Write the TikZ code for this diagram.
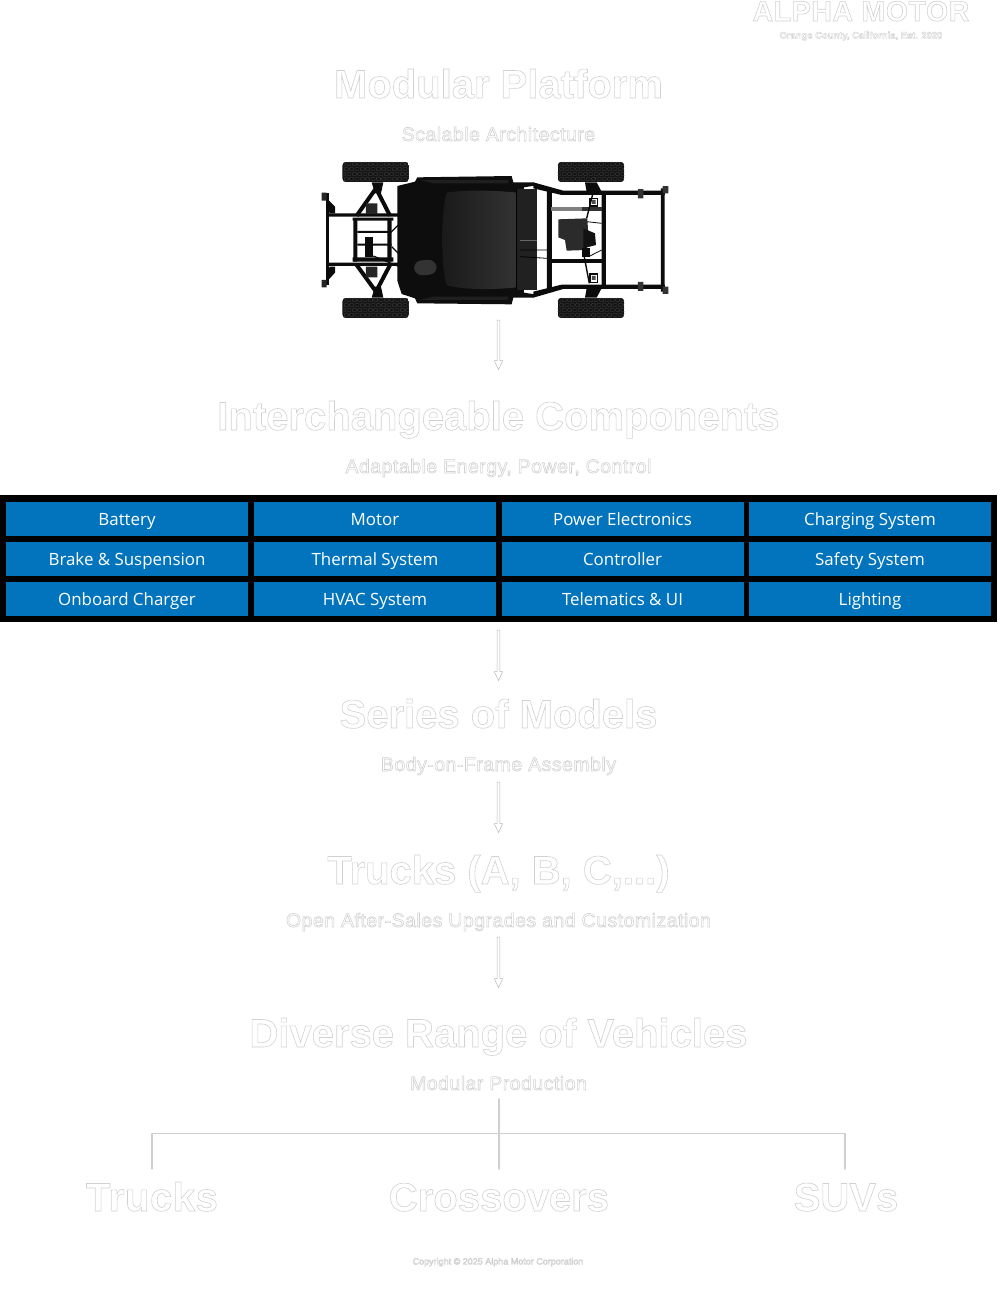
\documentclass[tikz,border=0pt]{standalone}
\usepackage{fontspec}
\setmainfont{Liberation Sans}
\newfontfamily\cellfont{Open Sans}
\usetikzlibrary{arrows.meta}
\definecolor{cellblue}{HTML}{0274BD}
\definecolor{lineg}{HTML}{CFCFCF}
\definecolor{frame}{HTML}{0B0B0B}
\newcommand\outl[2][0.6]{\special{pdf:code q 2 Tr #1 w 0.82 0.82 0.82 RG 1 1 1 rg}#2\special{pdf:code Q}}
\newcommand\bigtxt[1]{\outl{\bfseries #1}}
\newcommand\subtxt[1]{\outl{\addfontfeatures{LetterSpace=2.5}#1}}
\tikzset{
  title/.style={anchor=base,inner sep=0pt,font=\fontsize{#1}{#1}\selectfont},
  cellbox/.style={fill=cellblue,draw=none,minimum width=242pt,minimum height=34pt,inner sep=0pt,text=white,font=\cellfont\fontsize{16.9}{17}\selectfont,text height=14pt,text depth=2pt},
  flow/.style={draw=lineg!90!black,fill=white,line width=.5pt,line join=miter},
  tree/.style={draw=lineg,line width=1.4pt,line cap=round,line join=round},
  member/.style={draw=frame,line width=#1,line cap=butt},
}
\begin{document}
\begin{tikzpicture}[x=1pt,y=-1pt]
\useasboundingbox (0,0) rectangle (1000,1296);
\fill[white] (0,0) rectangle (1000,1296);
% header
\node[title=28.5] (brand) at (861,21) {\outl{\bfseries\addfontfeatures{LetterSpace=2}ALPHA MOTOR}};
\node[title=9.4] (place) at (861,38.5) {\outl[0.4]{\bfseries Orange County, California, Est. 2020}};
% section titles
\node[title=40] (t1) at (498.5,98) {\bigtxt{Modular Platform}};
\node[title=19.5] (s1) at (498.5,141) {\subtxt{Scalable Architecture}};
\node[title=40] (t2) at (498.5,430) {\bigtxt{Interchangeable Components}};
\node[title=19.5] (s2) at (498.5,473) {\subtxt{Adaptable Energy, Power, Control}};
\node[title=40] (t3) at (498.5,728) {\bigtxt{Series of Models}};
\node[title=19.5] (s3) at (498.5,771) {\subtxt{Body-on-Frame Assembly}};
\node[title=40] (t4) at (498.5,884) {\bigtxt{Trucks (A, B, C,...)}};
\node[title=19.5] (s4) at (498.5,927) {\subtxt{Open After-Sales Upgrades and Customization}};
\node[title=40] (t5) at (498.5,1047) {\bigtxt{Diverse Range of Vehicles}};
\node[title=19.5] (s5) at (498.5,1090) {\subtxt{Modular Production}};
\node[title=40] (o1) at (152,1211) {\outl{\bfseries\addfontfeatures{LetterSpace=1.5}Trucks}};
\node[title=40] (o2) at (499,1211) {\bigtxt{Crossovers}};
\node[title=40] (o3) at (846,1211) {\bigtxt{SUVs}};
\node[title=9] (copy) at (498,1264.5) {\outl[0.45]{Copyright © 2025 Alpha Motor Corporation}};
% chassis
\begin{scope}[shift={(300,150)},x=0.3333pt,y=-0.3333pt]
 \foreach \x/\y in {127/35,127/443,773/35,773/443}{
  \begin{scope}
   \clip[rounded corners=4pt] (\x,\y) rectangle ++(200,62);
   \fill[black!92] (\x,\y) rectangle ++(200,62);
   \foreach \i in {0,...,12}{\foreach \j in {0,...,3}{
     \draw[black!76,line width=.35pt] ({\x+4+\i*16+8*mod(\j,2)},{\y+6+\j*15}) ++(0,-5) -- ++(6,3) -- ++(0,6) -- ++(-6,3) -- ++(-6,-3) -- ++(0,-6) -- cycle;
   }}
  \end{scope}
 }
 % front frame
 \fill[frame] (77,130) rectangle (88,405);
 \fill[black!85] (65,128) rectangle (80,152) (65,390) rectangle (80,412);
 \fill[frame] (85,150) -- (105,170) -- (105,190) -- (88,190) -- cycle (85,390) -- (105,368) -- (105,350) -- (88,350) -- cycle;
 \fill[frame] (85,190) rectangle (295,200) (85,338) rectangle (295,348);
 \fill[frame] (160,205) rectangle (172,335) (262,205) rectangle (275,335);
 \fill[frame] (158,203) rectangle (280,212) (172,243) rectangle (275,249) (172,281) rectangle (275,287) (158,322) rectangle (280,335);
 \fill[frame] (195,262) rectangle (218,322);
 \fill[frame] (215,97) -- (250,97) -- (243,130) -- (225,130) -- cycle (215,443) -- (250,443) -- (243,410) -- (225,410) -- cycle;
 \draw[member=4pt] (228,115) -- (170,197) (228,115) -- (270,197) (228,425) -- (170,345) (228,425) -- (270,345);
 \fill[black!85] (198,160) rectangle (232,192) (198,350) rectangle (232,382);
 \draw[member=1.2pt] (275,245) -- (295,225) (275,290) -- (295,310) (220,318) -- (310,355);
 % rear frame
 \fill[frame] (700,97) -- (790,122) -- (1095,122) -- (1095,135) -- (785,135) -- (700,115) -- cycle;
 \fill[frame] (700,443) -- (790,417) -- (1095,417) -- (1095,404) -- (785,404) -- (700,425) -- cycle;
 \fill[frame] (741,120) rectangle (756,420) (905,125) rectangle (918,415) (1083,115) rectangle (1094,425);
 \fill[frame] (755,327) rectangle (905,340);
 \fill[black!50] (753,170) rectangle (845,184);
 \fill[black!80] (845,170) rectangle (905,184);
 \fill[black!80] (1088,108) rectangle (1105,130) (1088,410) rectangle (1105,432) (1014,117) rectangle (1030,145) (1014,396) rectangle (1030,423);
 \fill[frame] (855,97) -- (890,97) -- (905,125) -- (860,125) -- cycle (855,443) -- (890,443) -- (905,415) -- (860,415) -- cycle;
 \draw[member=1.6pt] (870,145) rectangle (893,168) (870,372) rectangle (893,397);
 \fill[black!70] (876,150) rectangle (887,162) (876,378) rectangle (887,390);
 \draw[member=1.4pt] (850,305) -- (868,400) (880,125) -- (860,205);
 \draw[member=.8pt] (860,215) -- (905,220) (870,318) -- (905,300);
 \fill[black!83] (775,208) -- (862,205) -- (866,270) -- (860,300) -- (800,302) -- (795,270) -- (775,262) -- cycle;
 \fill[black!93] (850,235) -- (885,250) -- (888,285) -- (850,295) -- cycle;
 \fill[frame] (845,295) rectangle (870,320);
 % body
 \fill[black!95] (292,108) -- (345,95) -- (352,82) -- (635,78) -- (640,97) -- (700,97) -- (716,105) -- (672,112) -- (672,428) -- (716,435) -- (700,443) -- (640,443) -- (635,463) -- (352,460) -- (345,445) -- (305,432) -- (292,392) -- cycle;
 \fill[black!87] (650,118) rectangle (712,420);
 \fill[black!88] (360,90) -- (625,90) -- (625,100) -- (400,100) -- cycle (360,450) -- (625,450) -- (625,440) -- (400,440) -- cycle;
 \shade[left color=black!90,right color=black!80] (440,128) .. controls (500,118) and (600,122) .. (650,128) -- (650,412) .. controls (600,418) and (500,422) .. (440,406) .. controls (422,350) and (422,190) .. (440,128) -- cycle;
 \draw[black,line width=.8pt] (650,118) -- (650,420);
 \fill[black!80,rounded corners=8pt] (340,333) -- (408,328) -- (412,372) -- (345,378) -- cycle;
 \draw[black!60,line width=.3pt] (660,270) -- (712,270);
 \draw[black,line width=.8pt] (660,300) -- (741,300) (660,320) -- (741,325);
\end{scope}
\coordinate (a1s) at (498.5,320); \coordinate (a1e) at (498.5,369.5);
% component grid
\fill[black] (0,495) rectangle (997,622);
\foreach \c/\cx/\lab/\y in {
 a/127/Battery/519,b/375/Motor/519,c/622.5/Power Electronics/519,d/870/Charging System/519,
 e/127/Brake \& Suspension/559,f/375/Thermal System/559,g/622.5/Controller/559,h/870/Safety System/559,
 i/127/Onboard Charger/599,j/375/HVAC System/599,k/622.5/Telematics \& UI/599,l/870/Lighting/599}{
 \node[cellbox] (cell\c) at (\cx,\y) {\lab};
}
\coordinate (a2s) at (498.5,630); \coordinate (a2e) at (498.5,680.5);
\coordinate (a3s) at (498.5,782); \coordinate (a3e) at (498.5,832.5);
\coordinate (a4s) at (498.5,937); \coordinate (a4e) at (498.5,987.5);
\foreach \n in {1,2,3,4}{
 \draw[flow] ([shift={(-1.3,0)}]a\n s) -- ([shift={(-1.3,-9)}]a\n e) -- ([shift={(-4.3,-9)}]a\n e) -- (a\n e) -- ([shift={(4.3,-9)}]a\n e) -- ([shift={(1.3,-9)}]a\n e) -- ([shift={(1.3,0)}]a\n s) -- cycle;
}
% tree
\coordinate (tc) at (499,1099);
\coordinate (tl) at (152,1169);
\coordinate (tr) at (845,1169);
\coordinate (tm) at (499,1169);
\draw[tree] (tl) -- (152,1133.5) -- (845,1133.5) -- (tr);
\draw[tree] (tc) -- (tm);
\end{tikzpicture}
\end{document}
